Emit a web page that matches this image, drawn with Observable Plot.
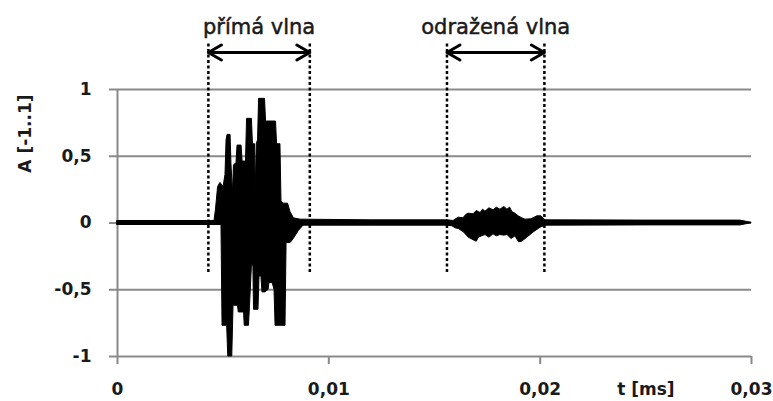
<!DOCTYPE html>
<html><head><meta charset="utf-8">
<script src="https://cdn.jsdelivr.net/npm/d3@7"></script>
<script src="https://cdn.jsdelivr.net/npm/@observablehq/plot@0.6"></script>
<style>html,body{margin:0;padding:0;background:#fff}</style>
</head><body><div id="chart"></div>
<script>
// Tick values
const xTicks = [0, 0.01, 0.02, 0.03];
const yTicks = [-1, -0.5, 0, 0.5, 1];
const xLabel = "t [ms]";
const yLabel = "A [-1..1]";

// Upper envelope of the recorded signal (t in ms-axis units, amplitude)
const upperT = [0, 0.00459, 0.00466, 0.00476, 0.00487, 0.00502, 0.00511, 0.00516, 0.00521, 0.00535, 0.00539, 0.00546, 0.00551, 0.00563, 0.00568, 0.00587, 0.00592, 0.00608, 0.00613, 0.00636, 0.00641, 0.00651, 0.00654, 0.00659, 0.00665, 0.00670, 0.00698, 0.00703, 0.00750, 0.00755, 0.00771, 0.00776, 0.00786, 0.00807, 0.00819, 0.00835, 0.00866, 0.01200, 0.01562, 0.01590, 0.01614, 0.01637, 0.01650, 0.01661, 0.01685, 0.01700, 0.01718, 0.01730, 0.01741, 0.01760, 0.01779, 0.01795, 0.01812, 0.01830, 0.01845, 0.01858, 0.01869, 0.01883, 0.01898, 0.01915, 0.01931, 0.01959, 0.01987, 0.02006, 0.02025, 0.02500, 0.02948, 0.02986, 0.03];
const upperA = [0.015, 0.015, 0.10, 0.27, 0.30, 0.27, 0.36, 0.62, 0.66, 0.66, 0.45, 0.22, 0.43, 0.45, 0.58, 0.58, 0.46, 0.46, 0.78, 0.78, 0.59, 0.59, 0.25, 0.59, 0.62, 0.93, 0.93, 0.76, 0.76, 0.59, 0.59, 0.16, 0.145, 0.145, 0.08, 0.035, 0.025, 0.02, 0.02, 0.015, 0.04, 0.035, 0.06, 0.07, 0.065, 0.09, 0.075, 0.10, 0.085, 0.11, 0.095, 0.115, 0.10, 0.12, 0.10, 0.115, 0.08, 0.07, 0.05, 0.035, 0.025, 0.028, 0.05, 0.05, 0.02, 0.018, 0.018, 0.006, 0.003];

// Lower envelope of the recorded signal
const lowerT = [0, 0.00492, 0.00497, 0.00519, 0.00524, 0.00543, 0.00549, 0.00570, 0.00574, 0.00599, 0.00602, 0.00622, 0.00627, 0.00636, 0.00643, 0.00646, 0.00667, 0.00672, 0.00681, 0.00686, 0.00700, 0.00715, 0.00719, 0.00734, 0.00743, 0.00748, 0.00795, 0.00800, 0.00819, 0.00834, 0.00858, 0.00880, 0.01200, 0.01562, 0.01585, 0.01600, 0.01615, 0.01639, 0.01662, 0.01686, 0.01700, 0.01710, 0.01725, 0.01741, 0.01760, 0.01779, 0.01795, 0.01812, 0.01830, 0.01845, 0.01865, 0.01883, 0.01900, 0.01915, 0.01939, 0.01970, 0.02002, 0.02025, 0.02500, 0.02948, 0.02986, 0.03];
const lowerA = [-0.015, -0.015, -0.77, -0.77, -1.0, -1.0, -0.62, -0.62, -0.67, -0.67, -0.77, -0.77, -0.62, -0.32, -0.32, -0.65, -0.65, -0.40, -0.40, -0.52, -0.52, -0.50, -0.45, -0.45, -0.50, -0.77, -0.77, -0.15, -0.15, -0.12, -0.06, -0.02, -0.02, -0.02, -0.025, -0.04, -0.045, -0.07, -0.11, -0.13, -0.14, -0.11, -0.10, -0.09, -0.11, -0.085, -0.10, -0.09, -0.095, -0.09, -0.12, -0.10, -0.145, -0.14, -0.11, -0.07, -0.035, -0.02, -0.018, -0.018, -0.006, -0.003];

// Marked time windows
const waveNames = ["přímá vlna", "odražená vlna"];
const waveStart = [0.0043, 0.01559];
const waveEnd = [0.0091, 0.0202];

// Annotation levels (in amplitude units)
const dashTop = 1.35, dashBottom = -0.37, arrowLevel = 1.277, nameLevel = 1.417;

const upper = upperT.map((t, i) => ({t, a: upperA[i]}));
const lower = lowerT.map((t, i) => ({t, a: lowerA[i]}));
const windows = waveNames.map((name, i) => ({name, start: waveStart[i], end: waveEnd[i], mid: (waveStart[i] + waveEnd[i]) / 2}));
const bounds = windows.flatMap(w => [w.start, w.end]);
const fmt = d => String(d).replace(".", ",");
const gray = "#8a8a8a";
const ink = "#1a1a1a";

const chart = Plot.plot({
  width: 773, height: 401,
  marginLeft: 117, marginRight: 22, marginTop: 89, marginBottom: 45,
  style: {fontFamily: "'DejaVu Sans'", fontSize: "17px", fontWeight: "bold", color: ink, background: "#fff", overflow: "visible"},
  x: {domain: [0, 0.03]},
  y: {domain: [-1, 1]},
  marks: [
    Plot.gridY(yTicks, {stroke: gray, strokeOpacity: 1, strokeWidth: 2}),
    Plot.axisY(yTicks, {tickSize: 8, tickPadding: 18, tickFormat: fmt, stroke: gray, strokeWidth: 2, fill: ink, label: null}),
    Plot.axisX(xTicks, {tickSize: 8, tickPadding: 18, tickFormat: fmt, stroke: gray, strokeWidth: 2, fill: ink, label: null}),
    Plot.ruleX([0], {y1: -1, y2: 1, stroke: gray, strokeWidth: 2}),
    Plot.areaY(upper, {x: "t", y1: 0, y2: "a", fill: "black", stroke: "black", strokeWidth: 1, strokeLinejoin: "round"}),
    Plot.areaY(lower, {x: "t", y1: 0, y2: "a", fill: "black", stroke: "black", strokeWidth: 1, strokeLinejoin: "round"}),
    Plot.ruleX(bounds, {y1: dashBottom, y2: dashTop, stroke: "black", strokeWidth: 2.5, strokeDasharray: "3,2.5"}),
    Plot.arrow(windows, {x1: "mid", x2: "start", y1: arrowLevel, y2: arrowLevel, stroke: "black", strokeWidth: 3, headLength: 7.5, headAngle: 60}),
    Plot.arrow(windows, {x1: "mid", x2: "end", y1: arrowLevel, y2: arrowLevel, stroke: "black", strokeWidth: 3, headLength: 7.5, headAngle: 60}),
    Plot.text(windows, {x: "mid", y: nameLevel, text: "name", lineAnchor: "bottom", fontSize: 21, fontWeight: "normal", fill: ink, stroke: ink, strokeWidth: 0.5}),
    Plot.text([xLabel], {x: 0.025, y: -1, dy: 26, lineAnchor: "top", fill: ink}),
    Plot.text([yLabel], {frameAnchor: "left", y: 0.67, dx: -92, rotate: -90, textAnchor: "middle", lineAnchor: "middle", fill: ink})
  ]
});
document.getElementById("chart").appendChild(chart);
</script>
</body></html>
